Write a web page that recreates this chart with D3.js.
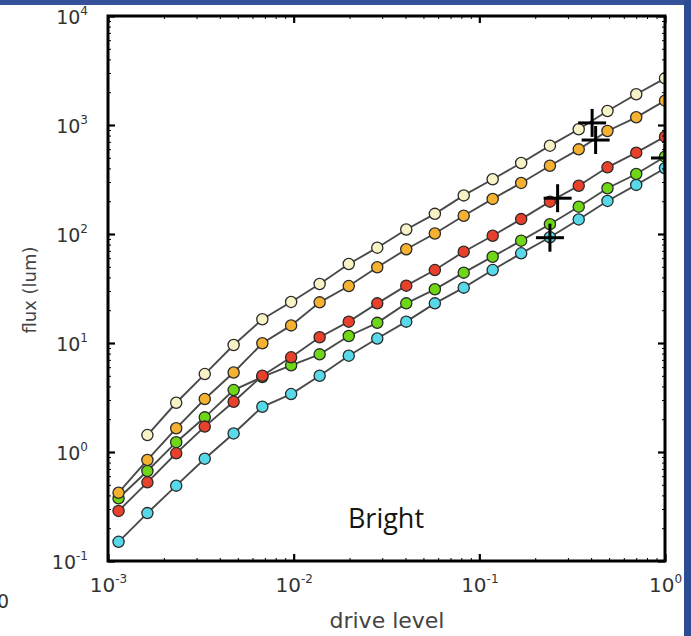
<!DOCTYPE html>
<html>
<head>
<meta charset="utf-8">
<script src="https://cdn.jsdelivr.net/npm/d3@7"></script>
<style>
  html, body { margin: 0; padding: 0; background: #fff; }
  svg { display: block; }
</style>
</head>
<body>
<svg id="chart" width="691" height="636"></svg>
<script>
// ---- data ----
const driveLevels = [0.00114, 0.00163, 0.00233, 0.00332, 0.00475, 0.00678, 0.00969, 0.0138, 0.0198, 0.0282,
                     0.0404, 0.0576, 0.0824, 0.118, 0.168, 0.240, 0.343, 0.490, 0.700, 1.0];
const creamFlux  = [null, 1.43, 2.83, 5.19, 9.59, 16.5, 23.8, 34.8, 53.1, 74.9, 110, 153, 226, 318, 448, 646, 914, 1344, 1913, 2681];
const orangeFlux = [0.423, 0.845, 1.65, 3.06, 5.36, 9.94, 14.5, 23.6, 33.3, 49.5, 72.4, 101, 147, 210, 294, 423, 598, 881, 1177, 1671];
const redFlux    = [0.288, 0.527, 0.973, 1.71, 2.89, 5.01, 7.39, 11.3, 15.7, 23.1, 33.6, 46.7, 68.8, 96.4, 137, 198, 277, 409, 557, 781];
const greenFlux  = [0.376, 0.669, 1.23, 2.08, 3.70, 4.88, 6.24, 7.87, 11.6, 15.3, 23.1, 31.1, 44.2, 61.9, 86.8, 123, 178, 263, 355, 512];
const cyanFlux   = [0.150, 0.275, 0.491, 0.868, 1.48, 2.60, 3.40, 5.01, 7.65, 11.0, 15.7, 23.1, 32.2, 46.7, 66.5, 93.3, 136, 201, 282, 401];
const seriesNames  = ["cyan", "green", "red", "orange", "cream"];
const seriesColors = ["#58d9ea", "#6fd816", "#e8402a", "#f5b230", "#f8f3c6"];
const crossDrive = [0.405, 0.423, 0.264, 0.240, 1.0];
const crossFlux  = [1045, 728, 213, 92.5, 498];
const xTickExps = [-3, -2, -1, 0];
const yTickExps = [-1, 0, 1, 2, 3, 4];
const xLabel = "drive level";
const yLabel = "flux (lum)";
const annotation = "Bright";

const seriesData = [cyanFlux, greenFlux, redFlux, orangeFlux, creamFlux];

// ---- layout ----
const W = 691, H = 636;
const L = 108, R = 665, T = 16, B = 561;
const svg = d3.select("#chart");

const x = d3.scaleLog().domain([1e-3, 1]).range([L, R]);
const y = d3.scaleLog().domain([0.1, 1e4]).range([B, T]);

// slide border pieces
svg.append("rect").attr("x", 0).attr("y", 0).attr("width", W).attr("height", 5).attr("fill", "#34519a");
svg.append("rect").attr("x", 684).attr("y", 0).attr("width", 7).attr("height", H).attr("fill", "#2e4c92");

svg.append("defs").append("clipPath").attr("id", "plotclip")
  .append("rect").attr("x", L).attr("y", T).attr("width", R - L).attr("height", B - T);

const plot = svg.append("g").attr("clip-path", "url(#plotclip)");

const line = d3.line()
  .defined(d => d.v != null)
  .x(d => x(d.x)).y(d => y(d.v));

seriesData.forEach((vals, si) => {
  const pts = vals.map((v, i) => ({ x: driveLevels[i], v }));
  const g = plot.append("g").attr("class", "series-" + seriesNames[si]);
  g.append("path").datum(pts).attr("d", line)
    .attr("fill", "none").attr("stroke", "#4a4a4a").attr("stroke-width", 1.9);
  g.selectAll("circle").data(pts.filter(d => d.v != null)).join("circle")
    .attr("cx", d => x(d.x)).attr("cy", d => y(d.v)).attr("r", 5.6)
    .attr("fill", seriesColors[si]).attr("stroke", "#2a2a2a").attr("stroke-width", 1.3);
});

// crosses
const cs = 14;
crossDrive.forEach((cx, i) => {
  const px = x(cx), py = y(crossFlux[i]);
  plot.append("line").attr("x1", px - cs).attr("x2", px + cs).attr("y1", py).attr("y2", py)
    .attr("stroke", "#000").attr("stroke-width", 3);
  plot.append("line").attr("x1", px).attr("x2", px).attr("y1", py - cs).attr("y2", py + cs)
    .attr("stroke", "#000").attr("stroke-width", 3);
});

// minor tick values
const xMinor = [], yMinor = [];
for (let e = -3; e < 0; e++) for (let m = 2; m <= 9; m++) xMinor.push(m * Math.pow(10, e));
for (let e = -1; e < 4; e++) for (let m = 2; m <= 9; m++) yMinor.push(m * Math.pow(10, e));
const xMajor = xTickExps.map(e => Math.pow(10, e));
const yMajor = yTickExps.map(e => Math.pow(10, e));

function styleAxis(g, w) {
  g.select(".domain").remove();
  g.selectAll(".tick line").attr("stroke", "#000").attr("stroke-width", w);
  g.selectAll(".tick text").remove();
}
// minor ticks all sides
svg.append("g").attr("transform", `translate(0,${B})`).call(d3.axisBottom(x).tickValues(xMinor).tickSize(-3)).call(g => styleAxis(g, 1));
svg.append("g").attr("transform", `translate(0,${T})`).call(d3.axisTop(x).tickValues(xMinor).tickSize(-3)).call(g => styleAxis(g, 1));
svg.append("g").attr("transform", `translate(${L},0)`).call(d3.axisLeft(y).tickValues(yMinor).tickSize(-3)).call(g => styleAxis(g, 1));
svg.append("g").attr("transform", `translate(${R},0)`).call(d3.axisRight(y).tickValues(yMinor).tickSize(-3)).call(g => styleAxis(g, 1));
// major ticks all sides
svg.append("g").attr("transform", `translate(0,${T})`).call(d3.axisTop(x).tickValues(xMajor).tickSize(-7)).call(g => styleAxis(g, 2.2));
svg.append("g").attr("transform", `translate(${R},0)`).call(d3.axisRight(y).tickValues(yMajor).tickSize(-7)).call(g => styleAxis(g, 2.2));

const fontTick = "'DejaVu Sans', sans-serif";
// bottom axis with labels
const xAxisG = svg.append("g").attr("transform", `translate(0,${B})`)
  .call(d3.axisBottom(x).tickValues(xMajor).tickSize(-7).tickPadding(0));
xAxisG.select(".domain").remove();
xAxisG.selectAll(".tick line").attr("stroke", "#000").attr("stroke-width", 2.2);
xAxisG.selectAll(".tick text").each(function(d) {
  const t = d3.select(this);
  t.text(null).attr("y", 31).attr("dy", null).attr("fill", "#333")
    .attr("font-family", fontTick).attr("font-size", 20).attr("text-anchor", "middle");
  t.append("tspan").text("10");
  t.append("tspan").attr("dy", -9).attr("font-size", 12).text(String(Math.round(Math.log10(d))));
});

// left axis with labels
const yAxisG = svg.append("g").attr("transform", `translate(${L},0)`)
  .call(d3.axisLeft(y).tickValues(yMajor).tickSize(-7).tickPadding(0));
yAxisG.select(".domain").remove();
yAxisG.selectAll(".tick line").attr("stroke", "#000").attr("stroke-width", 2.2);
yAxisG.selectAll(".tick text").each(function(d) {
  const t = d3.select(this);
  t.text(null).attr("x", -20).attr("dy", null).attr("y", 7).attr("fill", "#333")
    .attr("font-family", fontTick).attr("font-size", 19).attr("text-anchor", "end");
  t.append("tspan").text("10");
  t.append("tspan").attr("dy", -9).attr("font-size", 12).text(String(Math.round(Math.log10(d))));
});

// frame
svg.append("rect").attr("x", L).attr("y", T).attr("width", R - L).attr("height", B - T)
  .attr("fill", "none").attr("stroke", "#000").attr("stroke-width", 3);

// axis titles
svg.append("text").attr("x", 387).attr("y", 628).attr("text-anchor", "middle")
  .attr("font-family", fontTick).attr("font-size", 22).attr("fill", "#444").text(xLabel);
svg.append("text").attr("transform", "translate(36,290) rotate(-90)").attr("text-anchor", "middle")
  .attr("font-family", fontTick).attr("font-size", 18).attr("fill", "#444").text(yLabel);

// annotation
svg.append("text").attr("x", 386).attr("y", 528).attr("text-anchor", "middle")
  .attr("font-family", "'Open Sans', sans-serif").attr("font-size", 27).attr("fill", "#151515").text(annotation);

// partial slide text at lower left
svg.append("text").attr("x", -3).attr("y", 608).attr("font-family", fontTick).attr("font-size", 19)
  .attr("fill", "#333").text("0");
</script>
</body>
</html>
